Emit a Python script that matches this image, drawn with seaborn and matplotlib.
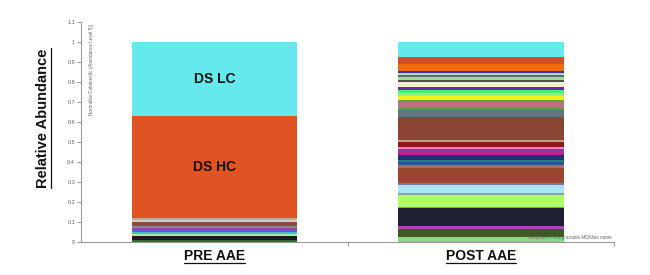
import matplotlib
matplotlib.use("Agg")
import matplotlib.pyplot as plt
import seaborn as sns
import pandas as pd
import numpy as np
from matplotlib.lines import Line2D

sns.set_theme(style="white")
plt.rcParams['font.family'] = ['Liberation Sans', 'DejaVu Sans']

categories = ["PRE AAE", "POST AAE"]

# segment sizes (bottom to top) per sample
pre_values = [0.012, 0.018, 0.008, 0.010, 0.010, 0.014, 0.010, 0.018, 0.010, 0.012, 0.508, 0.370]
pre_colors = ["#2f6a2f", "#1a1a1a", "#a8e6a8", "#3fc2c4", "#6a5acd", "#9146b0", "#8a8a8a",
              "#8b4a3c", "#cfcfcf", "#b9ab8c", "#e05323", "#66e9ec"]
pre_labels = {10: "DS HC", 11: "DS LC"}

post_values = [0.025, 0.040, 0.015, 0.090, 0.005, 0.060, 0.010, 0.025, 0.015, 0.010,
               0.075, 0.015, 0.015, 0.010, 0.025, 0.015, 0.015, 0.010, 0.025, 0.010,
               0.115, 0.035, 0.010, 0.030, 0.010, 0.020, 0.015, 0.015, 0.015, 0.025,
               0.010, 0.015, 0.010, 0.010, 0.010, 0.035, 0.035, 0.075]
post_colors = ["#80e080", "#3d5a22", "#b040c0", "#1f1f33", "#50c050", "#b0ff66", "#8ca0a0",
               "#a8e8f0", "#c0d8f8", "#6080b0", "#9a4530", "#a07060", "#3050a0", "#208080",
               "#203070", "#c02090", "#8040a0", "#f080d0", "#8b1a1a", "#c0a080", "#8b4533",
               "#607878", "#50a040", "#c07080", "#60a040", "#f0f020", "#90f090", "#40f070",
               "#6030a0", "#f0f0d0", "#505050", "#a0d8a0", "#606868", "#b0e0b0", "#4030b0",
               "#f06a10", "#d55020", "#66e9ec"]

y_ticks = [0, 0.1, 0.2, 0.3, 0.4, 0.5, 0.6, 0.7, 0.8, 0.9, 1.0, 1.1]
y_tick_labels = ["0", "0.1", "0.2", "0.3", "0.4", "0.5", "0.6", "0.7", "0.8", "0.9", "1", "1.1"]

fig = plt.figure(figsize=(6.5, 2.75), dpi=100)
ax = fig.add_axes([0.125, 0.12, 0.82, 0.80])

def stack(cat, values, colors):
    cum = np.cumsum(values)
    # draw tallest first so lower segments overdraw
    for i in range(len(values) - 1, -1, -1):
        df = pd.DataFrame({"sample": [cat], "value": [cum[i]]})
        sns.barplot(data=df, x="sample", y="value", order=categories, color=colors[i],
                    saturation=1, width=0.62, linewidth=0, ax=ax, errorbar=None)
    return cum

pre_cum = stack("PRE AAE", pre_values, pre_colors)
post_cum = stack("POST AAE", post_values, post_colors)

for idx, lab in pre_labels.items():
    mid = pre_cum[idx] - pre_values[idx] / 2
    ax.text(0, mid, lab, ha="center", va="center", fontsize=10, fontweight="bold", color="#111111")

ax.set_xlim(-0.5, 1.5)
ax.set_ylim(0, 1.1)
ax.set_yticks(y_ticks)
ax.set_yticklabels(y_tick_labels, fontsize=4, color="#666666")
ax.set_xticks([0.5, 1.5])
ax.set_xticklabels([])
ax.tick_params(axis="both", which="both", length=3, width=0.6, color="#888888", direction="out",
               left=True, bottom=True, pad=1.5)
ax.set_xlabel("")
ax.set_ylabel("")
for s in ["top", "right"]:
    ax.spines[s].set_visible(False)
for s in ["left", "bottom"]:
    ax.spines[s].set_color("#999999")
    ax.spines[s].set_linewidth(0.8)

ax.text(-0.47, 1.09, "Normalize Columns(lc (Abundance Level 5))", rotation=90, fontsize=3.3,
        color="#666666", ha="left", va="top")
ax.text(1.49, 0.01, "Sample(s) Pomegranates MDAlias name", fontsize=3.3, color="#666666",
        ha="right", va="bottom")

# underlined texts
texts = []
texts.append(fig.text(43 / 650, 1 - 118 / 275, "Relative Abundance", rotation=90, fontsize=10.5,
                      fontweight="bold", ha="center", va="center", color="#111111"))
cat_texts = []
for i, c in enumerate(categories):
    xf = ax.transData.transform((i, 0))[0]
    cat_texts.append(fig.text(xf / 650, 1 - 256 / 275, c, fontsize=10, fontweight="bold",
                              ha="center", va="center", color="#111111"))

fig.canvas.draw()
r = fig.canvas.get_renderer()
W, H = fig.get_size_inches() * fig.dpi
bb = texts[0].get_window_extent(r)
xline = (bb.x1 + 0.5) / W
fig.add_artist(Line2D([xline, xline], [bb.y0 / H, bb.y1 / H], color="#111111", lw=0.9))
for t in cat_texts:
    bb = t.get_window_extent(r)
    yl = (bb.y0 + 0.5) / H
    fig.add_artist(Line2D([bb.x0 / W, bb.x1 / W], [yl, yl], color="#111111", lw=0.9))

fig.savefig("out.png", dpi=100)
